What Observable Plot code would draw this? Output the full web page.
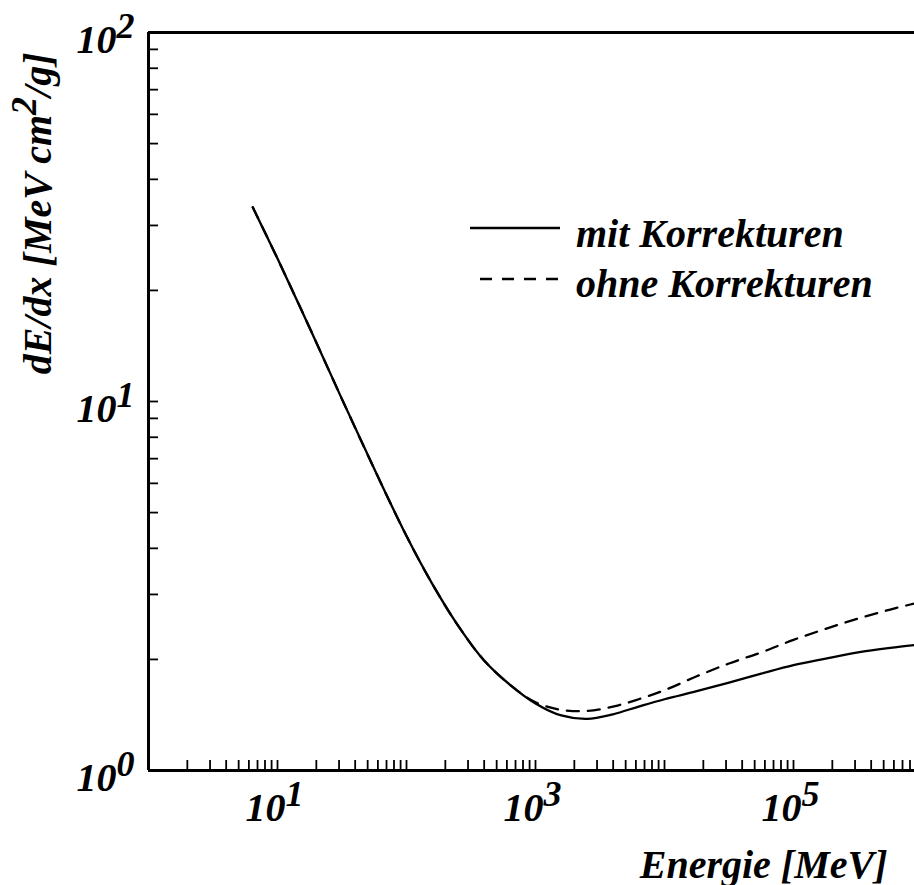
<!DOCTYPE html>
<html>
<head>
<meta charset="utf-8">
<script src="https://cdn.jsdelivr.net/npm/d3@7"></script>
<script src="https://cdn.jsdelivr.net/npm/@observablehq/plot@0.6"></script>
<style>
  html, body { margin: 0; padding: 0; background: #fff; overflow: hidden; }
</style>
</head>
<body>
<div id="chart"></div>
<script>
// Energy grid (MeV)
const energies = [6.43, 10, 17.8, 31.6, 56.2, 100, 158, 251, 398, 631, 1000, 1585, 2512, 3981, 6310, 10000, 17780, 31620, 56230, 100000, 177800, 316200, 562300, 1000000];
// dE/dx with corrections [MeV cm^2/g]
const dEdxWith = [33.6, 24.4, 15.8, 10.15, 6.57, 4.32, 3.21, 2.47, 1.99, 1.71, 1.52, 1.41, 1.38, 1.42, 1.49, 1.56, 1.64, 1.73, 1.83, 1.93, 2.01, 2.09, 2.15, 2.20];
// dE/dx without corrections
const dEdxWithout = [33.6, 24.4, 15.8, 10.15, 6.57, 4.32, 3.21, 2.47, 1.99, 1.71, 1.53, 1.46, 1.45, 1.49, 1.56, 1.65, 1.80, 1.95, 2.09, 2.26, 2.42, 2.58, 2.73, 2.87];

const legendLabels = ["mit Korrekturen", "ohne Korrekturen"];
const xTitle = "Energie [MeV]";
const yTitle = "dE/dx [MeV cm^2/g]";
const xLabelExponents = [1, 3, 5];
const yLabelExponents = [0, 1, 2];
const xDecades = [0, 1, 2, 3, 4, 5];
const yDecades = [0, 1];
const multipliers = [1, 2, 3, 4, 5, 6, 7, 8, 9];

const xTicks = xDecades.flatMap(k => multipliers.map(m => m * 10 ** k)).filter(v => v > 1);
const yTicks = yDecades.flatMap(k => multipliers.map(m => m * 10 ** k)).filter(v => v > 1);

const rows = energies.map((e, i) => ({E: e, withC: dEdxWith[i], withoutC: dEdxWithout[i]}));

const font = "'Liberation Serif', 'Times New Roman', serif";
const textOpts = {fontSize: 40, fontStyle: "italic", fontWeight: "bold", fill: "black"};

const chart = Plot.plot({
  width: 914,
  height: 885,
  marginLeft: 148,
  marginRight: 0,
  marginTop: 32,
  marginBottom: 115,
  x: {type: "log", domain: [1, 1e6], range: [148, 922]},
  y: {type: "log", domain: [1, 100], range: [770, 32]},
  style: {fontFamily: font, fontStyle: "italic", fontWeight: "bold", fontSize: "40px", background: "white", color: "black"},
  marks: [
    Plot.line(rows, {x: "E", y: "withC", stroke: "black", strokeWidth: 2.3, curve: "catmull-rom", clip: true}),
    Plot.line(rows, {x: "E", y: "withoutC", stroke: "black", strokeWidth: 2.3, strokeDasharray: "12,9", curve: "catmull-rom", clip: true}),
    Plot.axisX(xTicks, {tickSize: -10, tickFormat: () => "", label: null, strokeWidth: 1.8}),
    Plot.axisY(yTicks, {tickSize: -10, tickFormat: () => "", label: null, strokeWidth: 1.8}),
    Plot.ruleY([1], {strokeWidth: 3}),
    Plot.ruleY([100], {strokeWidth: 3}),
    Plot.ruleX([1], {strokeWidth: 3}),
    Plot.text(xLabelExponents, {x: e => 10 ** e, frameAnchor: "bottom", textAnchor: "middle", lineAnchor: "bottom", dx: -3, dy: 50, text: e => "10^" + e, ...textOpts}),
    Plot.text(yLabelExponents, {y: e => 10 ** e, frameAnchor: "left", textAnchor: "end", lineAnchor: "bottom", dx: -14, dy: 20, text: e => "10^" + e, ...textOpts}),
    Plot.text([xTitle], {frameAnchor: "bottom-right", textAnchor: "end", lineAnchor: "bottom", dx: -27, dy: 107, text: d => d, ...textOpts}),
    Plot.text([yTitle], {frameAnchor: "top-left", rotate: -90, textAnchor: "end", lineAnchor: "bottom", dx: -98, dy: 20, text: d => d, ...textOpts})
  ]
});

// superscripts
d3.select(chart).selectAll("text").each(function () {
  const s = this.textContent;
  if (!s.includes("^")) return;
  const parts = s.split(/\^(\d)/);
  this.textContent = "";
  let raised = false;
  parts.forEach((p, i) => {
    if (i % 2 === 1) {
      const t = document.createElementNS("http://www.w3.org/2000/svg", "tspan");
      t.setAttribute("dy", "-15");
      t.setAttribute("font-size", "36");
      t.textContent = p;
      this.appendChild(t);
      raised = true;
    } else if (p) {
      const t = document.createElementNS("http://www.w3.org/2000/svg", "tspan");
      if (raised) { t.setAttribute("dy", "15"); raised = false; }
      t.textContent = p;
      this.appendChild(t);
    }
  });
});

// legend
const lg = d3.select(chart).append("g").attr("class", "legend");
legendLabels.forEach((label, i) => {
  const y = 228 + 51 * i;
  lg.append("line")
    .attr("x1", i === 0 ? 470 : 480).attr("x2", i === 0 ? 560 : 558)
    .attr("y1", y).attr("y2", y)
    .attr("stroke", "black").attr("stroke-width", 2.3)
    .attr("stroke-dasharray", i === 0 ? null : "12,10");
  lg.append("text")
    .attr("x", 576).attr("y", 247 + 50 * i)
    .attr("text-anchor", "start")
    .attr("font-family", font).attr("font-style", "italic").attr("font-weight", "bold")
    .attr("font-size", 40).attr("fill", "black")
    .text(label);
});

document.getElementById("chart").appendChild(chart);
</script>
</body>
</html>
